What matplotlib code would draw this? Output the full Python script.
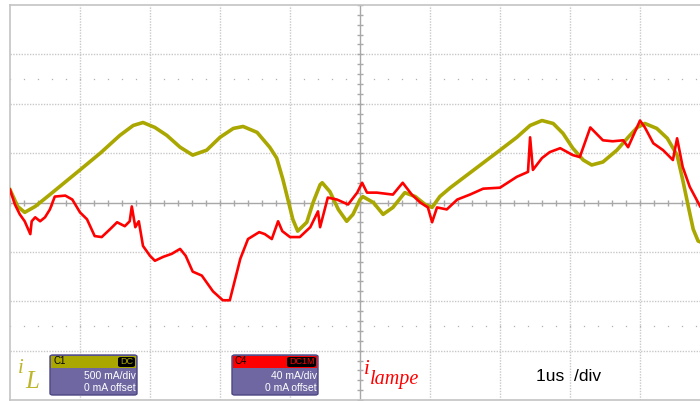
import matplotlib.pyplot as plt
import numpy as np
from matplotlib.patches import FancyBboxPatch

W, H = 700, 401

# scope settings
TIME_PER_DIV = 1.0      # us/div
IL_PER_DIV = 500.0      # mA/div, channel C1
ILAMPE_PER_DIV = 40.0   # mA/div, channel C4

# C1 : inductor current i_L (time in us, current in mA)
il_t = [0.00, 0.11, 0.21, 0.36, 0.57, 1.00, 1.29, 1.57, 1.76, 1.90, 2.07, 2.24,
        2.43, 2.61, 2.81, 3.00, 3.19, 3.33, 3.53, 3.71, 3.81, 3.90, 3.97, 4.04,
        4.11, 4.24, 4.33, 4.43, 4.46, 4.57, 4.69, 4.81, 4.90, 5.00, 5.04, 5.19,
        5.33, 5.47, 5.64, 5.79, 5.93, 6.03, 6.14, 6.29, 7.00, 7.24, 7.43, 7.60,
        7.76, 7.90, 8.04, 8.19, 8.31, 8.47, 8.67, 8.83, 8.96, 9.07, 9.24, 9.39,
        9.53, 9.61, 9.69, 9.76, 9.83, 9.93]
il_ma = [130, -40, -100, -40, 80, 330, 500, 680, 780, 810, 760, 680,
         560, 480, 530, 660, 750, 770, 710, 560, 450, 230, 30, -170,
         -290, -200, 0, 180, 200, 110, -70, -190, -120, 30, 60, 0,
         -120, -50, 100, 60, -20, -50, 60, 150, 530, 660, 780, 830,
         800, 700, 550, 430, 380, 410, 530, 660, 760, 800, 750, 650,
         480, 230, -40, -270, -390, -420]

# C4 : lamp current i_lampe (time in us, current in mA)
lamp_t = [0.00, 0.07, 0.14, 0.21, 0.29, 0.31, 0.36, 0.43, 0.50, 0.57, 0.64, 0.79,
          0.89, 1.00, 1.10, 1.21, 1.31, 1.43, 1.53, 1.64, 1.71, 1.74, 1.79, 1.84,
          1.90, 2.00, 2.07, 2.19, 2.31, 2.43, 2.51, 2.61, 2.74, 2.90, 3.04, 3.14,
          3.29, 3.40, 3.56, 3.64, 3.74, 3.83, 3.89, 4.00, 4.14, 4.29, 4.40, 4.43,
          4.54, 4.67, 4.83, 4.96, 5.03, 5.10, 5.24, 5.47, 5.61, 5.74, 5.86, 5.97,
          6.03, 6.10, 6.24, 6.39, 6.57, 6.76, 7.00, 7.24, 7.40, 7.43, 7.47, 7.60,
          7.71, 7.86, 8.04, 8.14, 8.29, 8.47, 8.61, 8.76, 8.83, 9.00, 9.07, 9.19,
          9.33, 9.47, 9.53, 9.61, 9.71, 9.86]
lamp_ma = [10.4, -1.6, -9.6, -15.2, -25.6, -15.2, -12.0, -15.2, -12.0, -5.6, 4.8, 5.6,
           2.4, -8.0, -13.6, -27.2, -28.0, -21.6, -16.0, -19.2, -15.2, -3.2, -20.0, -15.2,
           -35.2, -43.2, -47.2, -44.0, -41.6, -37.6, -43.2, -56.0, -59.2, -72.0, -79.2, -79.2,
           -45.6, -29.6, -24.0, -25.6, -29.6, -15.2, -23.2, -28.0, -28.0, -20.0, -7.2, -20.0,
           4.0, 2.4, -1.6, 8.0, 16.0, 8.0, 8.0, 6.4, 16.0, 6.4, 0.0, -4.0,
           -16.0, -4.0, -5.6, 2.4, 6.4, 11.2, 12.0, 20.8, 24.8, 52.8, 26.4, 36.0,
           40.8, 44.0, 38.4, 36.8, 60.8, 50.4, 49.6, 50.4, 44.8, 66.4, 60.8, 48.0,
           42.4, 34.4, 52.0, 28.8, 12.8, -3.2]


def px(x, y):
    # pixel position (from top-left) -> figure fraction
    return x / W, 1 - y / H


fig = plt.figure(figsize=(W / 100, H / 100), dpi=100)
ax = fig.add_axes([10 / W, 1 / H, 700 / W, 395 / H])
ax.set_xlim(0, 10)
ax.set_ylim(-4, 4)
ax.set_xticks([])
ax.set_yticks([])
for s in ['left', 'top', 'bottom']:
    ax.spines[s].set_color('#c4c4c4')
    ax.spines[s].set_linewidth(1.2)
ax.spines['right'].set_visible(False)

# graticule
for x in range(1, 10):
    if x != 5:
        ax.axvline(x, color='#c8c8c8', lw=1, ls=(0, (1, 1)), zorder=1)
for y in range(-3, 4):
    if y != 0:
        ax.axhline(y, color='#c8c8c8', lw=1, ls=(0, (1, 1)), zorder=1)
ax.axhline(0, color='#a8a8a8', lw=1, zorder=1)
ax.axvline(5, color='#a8a8a8', lw=1, zorder=1)

minor_x = np.arange(0, 10.01, 0.2)
minor_y = np.arange(-4, 4.01, 0.2)
ax.plot(minor_x, np.zeros_like(minor_x), ls='none', marker='|', ms=4,
        mew=1, color='#a8a8a8', zorder=1)
ax.plot(np.full_like(minor_y, 5), minor_y, ls='none', marker='_', ms=4,
        mew=1, color='#a8a8a8', zorder=1)
for yy in (2.5, -2.5):
    ax.plot(minor_x, np.full_like(minor_x, yy), ls='none', marker='s', ms=0.9,
            mew=0, color='#b0b0b0', zorder=1)

# traces
t1 = np.array(il_t) / TIME_PER_DIV
ax.plot(t1, np.array(il_ma) / IL_PER_DIV, color='#aaa700', lw=2.6, zorder=3,
        solid_joinstyle='round')
t4 = np.array(lamp_t) / TIME_PER_DIV
ax.plot(t4, np.array(lamp_ma) / ILAMPE_PER_DIV, color='#ff0000', lw=1.9, zorder=4,
        solid_joinstyle='round')


def channel_box(x0, x1, head_color, name, coupling, cpl_x0, scale):
    y0, y1, yh = 355, 395, 368
    bx, by = px(x0, y1)
    body = FancyBboxPatch((bx, by), (x1 - x0) / W, (y1 - y0) / H,
                          boxstyle='round,pad=0,rounding_size=0.004',
                          transform=fig.transFigure, facecolor='#6e67a2',
                          edgecolor='#4c4682', lw=1, zorder=5)
    fig.patches.append(body)
    hx, hy = px(x0 + 1, yh)
    head = plt.Rectangle((hx, hy), (x1 - x0 - 2) / W, (yh - y0 - 1) / H,
                         transform=fig.transFigure, facecolor=head_color,
                         edgecolor='none', zorder=6)
    fig.patches.append(head)
    fig.text(*px(x0 + 3, 361.5), name, fontsize=7, color='black',
             family='Liberation Sans', va='center', ha='left', zorder=7)
    cx, cy = px(cpl_x0, 367)
    cpl = FancyBboxPatch((cx, cy), (x1 - 2 - cpl_x0) / W, 10 / H,
                         boxstyle='round,pad=0,rounding_size=0.004',
                         transform=fig.transFigure, facecolor='black',
                         edgecolor='none', zorder=7)
    fig.patches.append(cpl)
    fig.text(*px((cpl_x0 + x1 - 2) / 2, 362), coupling, fontsize=6.5,
             color=head_color, family='Liberation Sans', va='center',
             ha='center', zorder=8)
    fig.text(*px(x1 - 1, 376), scale, fontsize=7.5, color='white',
             family='Liberation Sans', va='center', ha='right', zorder=7)
    fig.text(*px(x1 - 1, 388), '0 mA offset', fontsize=7.5, color='white',
             family='Liberation Sans', va='center', ha='right', zorder=7)


channel_box(50, 137, '#aaa700', 'C1', 'DC', 118, '500 mA/div')
channel_box(232, 318, '#ff0000', 'C4', 'DC1M', 287, '40 mA/div')

# channel names
fig.text(*px(18, 373), 'i', fontsize=15, color='#bdb52a', style='italic',
         family='Liberation Serif', ha='left', va='baseline')
fig.text(*px(25, 388), 'L', fontsize=18, color='#bdb52a', style='italic',
         family='Liberation Serif', ha='left', va='baseline')
fig.text(*px(364, 374), 'i', fontsize=15, color='#ff0000', style='italic',
         family='Liberation Serif', ha='left', va='baseline')
fig.text(*px(370, 384), 'lampe', fontsize=14.5, color='#ff0000', style='italic',
         family='Liberation Serif', ha='left', va='baseline')

fig.text(*px(536, 381), '1us  /div', fontsize=12.5, color='black',
         family='Liberation Sans', ha='left', va='baseline')

plt.savefig('out.png', dpi=100)
